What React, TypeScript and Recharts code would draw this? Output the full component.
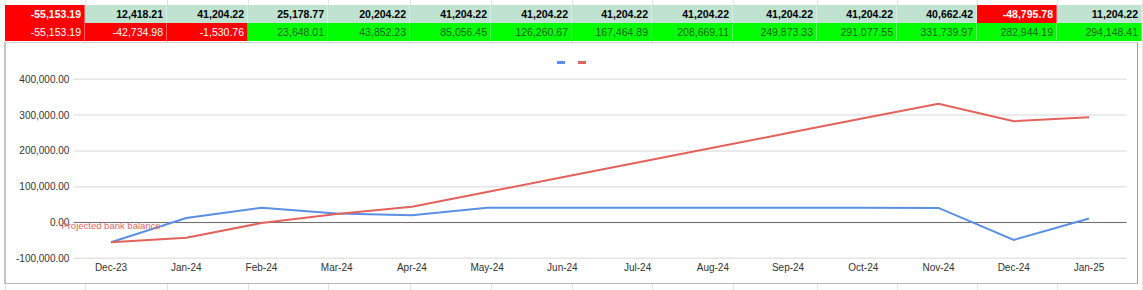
import React from "react";
import { LineChart, Line, XAxis, YAxis, CartesianGrid, ReferenceLine, Legend } from "recharts";

const months = ["Dec-23", "Jan-24", "Feb-24", "Mar-24", "Apr-24", "May-24", "Jun-24", "Jul-24", "Aug-24", "Sep-24", "Oct-24", "Nov-24", "Dec-24", "Jan-25"];
const monthlyNet = [-55153.19, 12418.21, 41204.22, 25178.77, 20204.22, 41204.22, 41204.22, 41204.22, 41204.22, 41204.22, 41204.22, 40662.42, -48795.78, 11204.22];
const projectedBalance = [-55153.19, -42734.98, -1530.76, 23648.01, 43852.23, 85056.45, 126260.67, 167464.89, 208669.11, 249873.33, 291077.55, 331739.97, 282944.19, 294148.41];
const yTicks = [-100000, 0, 100000, 200000, 300000, 400000];
const seriesLabel = "Projected bank balance";

// spreadsheet column edges (px)
const COL_EDGES = [5, 85, 167, 248, 328, 410, 491, 572, 652, 733, 817, 897, 977, 1057, 1142];
const FONT = "'Liberation Sans', Arial, sans-serif";
const BLUE = "#5b8fe3";
const RED = "#e2625c";

const fmt = (v: number) => v.toLocaleString("en-US", { minimumFractionDigits: 2, maximumFractionDigits: 2 });

const chartData = months.map((m, i) => ({ month: m, net: monthlyNet[i], balance: projectedBalance[i] }));

const Row = ({ values, top, height, bold, bg, fg }: any) => (
  <>
    {values.map((v: number, i: number) => {
      const neg = v < 0;
      return (
        <div
          key={i}
          style={{
            position: "absolute",
            left: COL_EDGES[i],
            top,
            width: COL_EDGES[i + 1] - COL_EDGES[i],
            height,
            boxSizing: "border-box",
            background: neg ? "#ff0000" : bg,
            color: neg ? "#ffffff" : fg,
            fontWeight: bold ? 700 : 400,
            fontSize: 10.5,
            fontFamily: FONT,
            textAlign: "right",
            paddingRight: 3,
            lineHeight: `${height}px`,
            borderRight: "1px solid rgba(255,255,255,0.35)",
          }}
        >
          {fmt(v)}
        </div>
      );
    })}
  </>
);

const LegendDashes = () => (
  <div style={{ display: "flex", justifyContent: "center", gap: 13 }}>
    <div style={{ width: 8, height: 3, background: BLUE }} />
    <div style={{ width: 8, height: 3, background: RED }} />
  </div>
);

const SeriesLabel = (props: any) => {
  const { x, y, index } = props;
  if (index !== 0) return null;
  return (
    <text x={x} y={y - 13} textAnchor="middle" fontSize={9.5} fontFamily={FONT} fill="#e06666">
      {seriesLabel}
    </text>
  );
};

export default function App() {
  return (
    <div style={{ position: "absolute", left: 0, top: 0, width: 1143, height: 290, background: "#fff", overflow: "hidden" }}>
      {/* sheet grid lines */}
      {COL_EDGES.map((x, i) => (
        <div key={i} style={{ position: "absolute", left: x, top: 0, width: 1, height: 290, background: "#e3e3e3" }} />
      ))}
      <Row values={monthlyNet} top={5} height={18} bold bg="#bfe3d0" fg="#000" />
      <Row values={projectedBalance} top={23} height={18} bg="#00ff00" fg="#1d5e1d" />

      <div
        style={{
          position: "absolute",
          left: 4,
          top: 42,
          width: 1134,
          height: 242,
          boxSizing: "border-box",
          background: "#fff",
          borderTop: "1px solid #d0d0d0",
          borderLeft: "2px solid #c4c4c4",
          borderRight: "1px solid #9c9c9c",
          borderBottom: "1px solid #b8b8b8",
        }}
      />

      <div style={{ position: "absolute", left: 0, top: 0 }}>
        <LineChart
          width={1143}
          height={290}
          data={chartData}
          margin={{ top: 79.3, right: 16.4, left: 13.4, bottom: 11.7 }}
        >
          <CartesianGrid vertical={false} stroke="#e4e4e4" strokeWidth={1.5} />
          <XAxis
            dataKey="month"
            axisLine={false}
            tickLine={false}
            tickSize={0}
            tickMargin={6}
            height={20}
            interval={0}
            padding={{ left: 37.6, right: 37.6 }}
            tick={{ fontSize: 10, fill: "#333", fontFamily: FONT }}
          />
          <YAxis
            domain={[-100000, 400000]}
            ticks={yTicks}
            axisLine={false}
            tickLine={false}
            tickSize={0}
            tickMargin={4}
            width={60}
            tickFormatter={fmt}
            tick={{ fontSize: 10, fill: "#333", fontFamily: FONT }}
          />
          <ReferenceLine y={0} stroke="#707070" strokeWidth={1.2} />
          <Legend
            verticalAlign="middle"
            align="center"
            wrapperStyle={{ top: 61, left: 0, width: 1143 }}
            content={<LegendDashes />}
          />
          <Line dataKey="net" stroke={BLUE} strokeWidth={2} dot={false} isAnimationActive={false} />
          <Line
            dataKey="balance"
            stroke={RED}
            strokeWidth={2}
            dot={false}
            isAnimationActive={false}
            label={<SeriesLabel />}
          />
        </LineChart>
      </div>
    </div>
  );
}
